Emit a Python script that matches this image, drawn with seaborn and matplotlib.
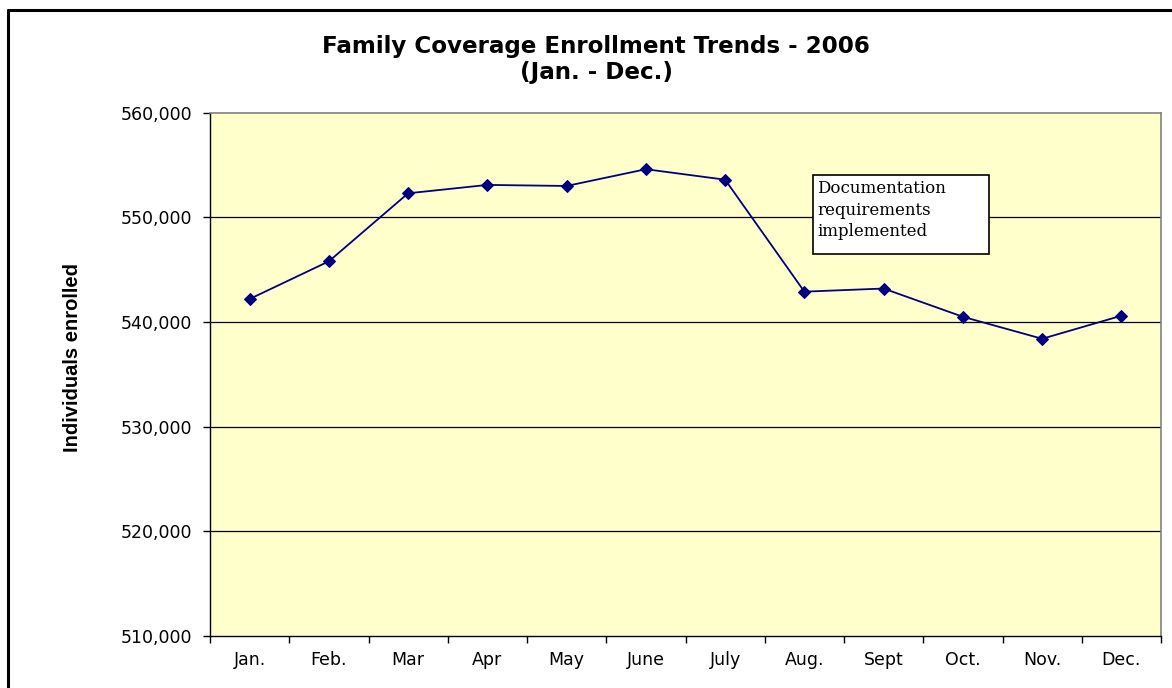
import matplotlib
matplotlib.use("Agg")
import matplotlib.pyplot as plt
import seaborn as sns
import pandas as pd
from matplotlib.ticker import FuncFormatter, FixedLocator
from matplotlib.lines import Line2D
from matplotlib.patches import Rectangle

months = ["Jan.", "Feb.", "Mar", "Apr", "May", "June", "July", "Aug.", "Sept", "Oct.", "Nov.", "Dec."]
enrolled = [542200, 545800, 552300, 553100, 553000, 554600, 553600, 542900, 543200, 540500, 538400, 540600]
y_ticks = [510000, 520000, 530000, 540000, 550000, 560000]

sns.set_theme(style="white")
plt.rcParams['font.family'] = ['DejaVu Sans']

W, H = 1172, 688
fig = plt.figure(figsize=(W / 100, H / 100), dpi=100)
left, right, top, bottom = 210, 1161, 112.7, 636
ax = fig.add_axes([left / W, 1 - bottom / H, (right - left) / W, (bottom - top) / H])
ax.set_facecolor("#FFFFCC")

df = pd.DataFrame({"x": list(range(len(months))), "month": months, "enrolled": enrolled})
sns.lineplot(data=df, x="x", y="enrolled", ax=ax, color="#000080", linewidth=1.3,
             marker="D", markersize=6.5, markeredgecolor="#000080", markerfacecolor="#000080")

ax.set_xlim(-0.5, len(months) - 0.5)
ax.set_ylim(510000, 560000)
ax.set_yticks(y_ticks)
ax.yaxis.set_major_formatter(FuncFormatter(lambda v, p: f"{int(v):,}"))
for yv in y_ticks[1:-1]:
    ax.axhline(yv, color="black", linewidth=0.9, zorder=1)

ax.xaxis.set_major_locator(FixedLocator([i - 0.5 for i in range(len(months) + 1)]))
ax.xaxis.set_minor_locator(FixedLocator(list(range(len(months)))))
ax.set_xticklabels([], minor=False)
ax.set_xticklabels(months, minor=True)
ax.tick_params(axis="x", which="major", direction="out", length=5, width=1, color="black", bottom=True)
ax.tick_params(axis="x", which="minor", length=0, labelsize=12.5, pad=11, labelcolor="black", bottom=True)
ax.tick_params(axis="y", direction="out", length=5, width=1, color="black", labelsize=12.5,
               left=True, pad=8, labelcolor="black")

ax.set_xlabel("")
ax.set_ylabel("")
fig.text(72 / W, 1 - 358 / H, "Individuals enrolled", rotation=90, ha="center", va="center",
         fontsize=14.5, fontweight="bold", family="Liberation Sans", color="black")

for s in ["left", "bottom"]:
    ax.spines[s].set_color("black")
    ax.spines[s].set_linewidth(1)
for s in ["top", "right"]:
    ax.spines[s].set_color("#808080")
    ax.spines[s].set_linewidth(1.2)
    ax.spines[s].set_visible(True)

fig.text(596 / W, 1 - 46 / H, "Family Coverage Enrollment Trends - 2006", ha="center", va="center",
         fontsize=16.6, fontweight="bold", color="black")
fig.text(597 / W, 1 - 73 / H, "(Jan. - Dec.)", ha="center", va="center",
         fontsize=16.6, fontweight="bold", color="black")

# annotation box
bx0, by0, bx1, by1 = 813, 175, 989, 254
fig.patches.append(Rectangle((bx0 / W, 1 - by1 / H), (bx1 - bx0) / W, (by1 - by0) / H,
                             transform=fig.transFigure, facecolor="white", edgecolor="black",
                             linewidth=1.2, zorder=5))
fig.text((bx0 + 4) / W, 1 - (by0 + 5) / H, "Documentation\nrequirements\nimplemented",
         ha="left", va="top", fontsize=12, family="DejaVu Serif", color="black",
         linespacing=1.35, zorder=6)

# outer frame (top and left edges visible)
fig.lines.append(Line2D([7.5 / W, 7.5 / W], [0, 1 - 10 / H], transform=fig.transFigure,
                        color="black", linewidth=2.2))
fig.lines.append(Line2D([7.5 / W, 1], [1 - 10 / H, 1 - 10 / H], transform=fig.transFigure,
                        color="black", linewidth=2.2))

fig.savefig("out.png", dpi=100, facecolor="white")
